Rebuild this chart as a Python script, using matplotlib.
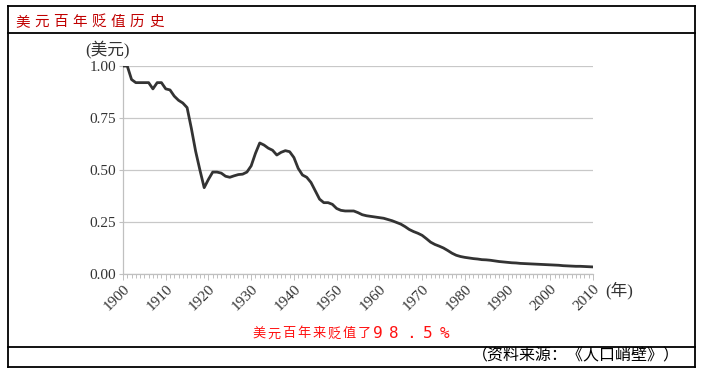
import numpy as np
import matplotlib.pyplot as plt
from matplotlib.lines import Line2D
from matplotlib.ticker import MultipleLocator

plt.rcParams['font.family'] = ['Noto Sans CJK SC', 'DejaVu Sans']

# purchasing power of one dollar, 1900-2010
years = list(range(1900, 2011))
values = [
    1.00, 1.00, 0.935, 0.92, 0.92, 0.92, 0.92, 0.89, 0.92, 0.92,   # 1900s
    0.89, 0.885, 0.855, 0.835, 0.822, 0.80, 0.70, 0.59, 0.50, 0.415,  # 1910s
    0.455, 0.49, 0.49, 0.485, 0.47, 0.465, 0.472, 0.478, 0.48, 0.49,  # 1920s
    0.52, 0.58, 0.63, 0.62, 0.605, 0.595, 0.572, 0.585, 0.593, 0.588,  # 1930s
    0.56, 0.508, 0.476, 0.465, 0.44, 0.40, 0.36, 0.343, 0.343, 0.335,  # 1940s
    0.315, 0.306, 0.303, 0.303, 0.303, 0.295, 0.285, 0.28, 0.277, 0.274,  # 1950s
    0.271, 0.268, 0.262, 0.256, 0.248, 0.24, 0.228, 0.214, 0.204, 0.196,  # 1960s
    0.186, 0.170, 0.153, 0.142, 0.134, 0.125, 0.113, 0.100, 0.090, 0.084,  # 1970s
    0.080, 0.077, 0.074, 0.072, 0.069, 0.068, 0.066, 0.063, 0.060, 0.058,  # 1980s
    0.056, 0.054, 0.053, 0.051, 0.050, 0.049, 0.048, 0.047, 0.046, 0.045,  # 1990s
    0.044, 0.043, 0.042, 0.040, 0.039, 0.038, 0.037, 0.037, 0.036, 0.035,  # 2000s
    0.034,
]
yticks = [0.0, 0.25, 0.5, 0.75, 1.0]
xticks = list(range(1900, 2011, 10))

title = "美元百年贬值历史"
note_cn = "美元百年来贬值了"
note_num = "98.5%"
source = "（资料来源：《人口峭壁》）"

W, H = 707, 372
fig = plt.figure(figsize=(W / 100, H / 100), dpi=100)

def fx(px):
    return px / W

def fy(py):
    return 1 - py / H

ax = fig.add_axes([fx(123), fy(274), fx(593) - fx(123), fy(66) - fy(274)])
ax.plot(years, values, color='#333333', lw=2.0, solid_joinstyle='round', zorder=3)

ax.set_xlim(1900, 2010)
ax.set_ylim(0, 1.0)
ax.set_yticks(yticks)
ax.set_yticklabels([f"{v:.2f}" for v in yticks], family='Liberation Serif', fontsize=11, color='#333333')
ax.set_xticks(xticks)
ax.set_xticklabels([str(x) for x in xticks], family='Liberation Serif', fontsize=11,
                   rotation=45, ha='right', va='top', rotation_mode='anchor', color='#333333')
ax.xaxis.set_minor_locator(MultipleLocator(1))
ax.grid(axis='y', color='#c8c8c8', lw=0.9)
ax.set_axisbelow(True)
for s in ['top', 'right']:
    ax.spines[s].set_visible(False)
for s in ['left', 'bottom']:
    ax.spines[s].set_color('#c0c0c0')
    ax.spines[s].set_linewidth(0.9)
ax.tick_params(axis='x', which='both', direction='out', color='#c0c0c0', width=0.7)
ax.tick_params(axis='x', which='major', length=4, pad=2)
ax.tick_params(axis='x', which='minor', length=3)
ax.tick_params(axis='y', length=3, color='#c0c0c0', pad=2)

# frame around the card
lk = dict(color='black', lw=1.3, transform=fig.transFigure)
for py in [6, 33, 347, 367]:
    fig.add_artist(Line2D([fx(8), fx(695)], [fy(py), fy(py)], **lk))
for px in [8, 695]:
    fig.add_artist(Line2D([fx(px), fx(px)], [fy(6), fy(367)], **lk))

# title, spaced characters
for i, ch in enumerate(title):
    fig.text(fx(22.5 + i * 19.1), fy(22), ch, color='#c00000', fontsize=10.5,
             ha='center', va='center')

fig.text(fx(108), fy(50), "(美元)", fontsize=12, color='#333333', ha='center', va='center',
         family=['Liberation Serif', 'Noto Sans CJK SC'])
fig.text(fx(619), fy(291), "(年)", fontsize=12, color='#333333', ha='center', va='center',
         family=['Liberation Serif', 'Noto Sans CJK SC'])

# red note at bottom
for i, ch in enumerate(note_cn):
    fig.text(fx(259 + i * 15.0), fy(334), ch, color='#ff1010', fontsize=9.5,
             ha='center', va='center')
for i, ch in enumerate(note_num):
    fig.text(fx(377.5 + i * 16.7), fy(334), ch, color='#ff1010', fontsize=11.5,
             ha='center', va='center', family='DejaVu Sans Mono')

fig.text(fx(680), fy(356), source, fontsize=11.5, color='black', ha='right', va='center')

fig.savefig("out.png", dpi=100)
